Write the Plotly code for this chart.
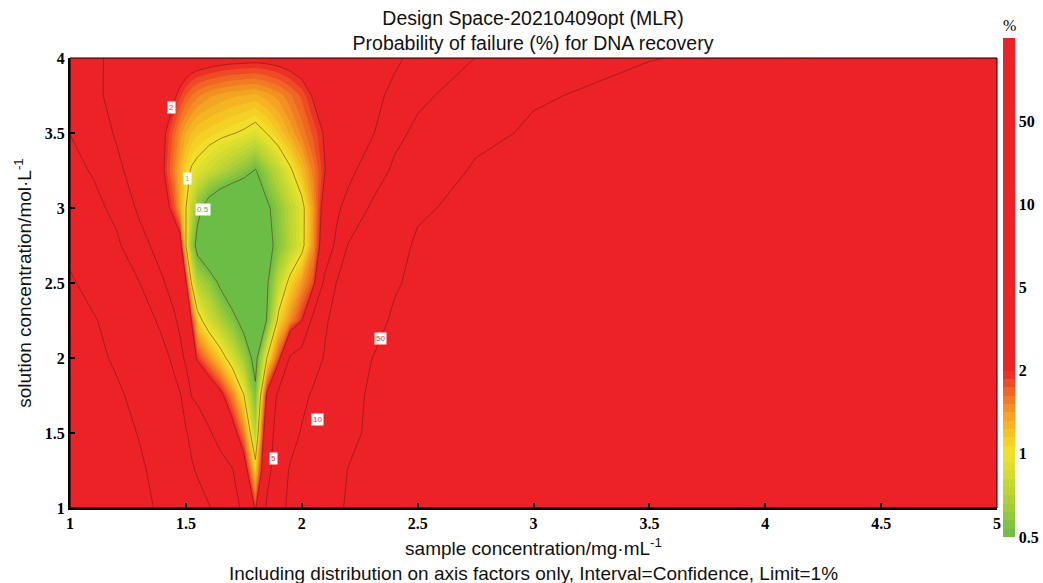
import numpy as np
import plotly.graph_objects as go

# sample concentration (mg/mL) grid columns
x_vals = [1.0, 1.1, 1.2, 1.3, 1.4, 1.45, 1.475, 1.5, 1.525, 1.55, 1.6, 1.65, 1.7, 1.75, 1.8, 1.85,
          1.9, 1.95, 2.0, 2.05, 2.1, 2.15, 2.2, 2.3, 2.4, 2.5, 2.75, 3.0, 3.5, 4.0, 4.5, 5.0]
# solution concentration (mol/L) grid rows
y_vals = [1.0, 1.25, 1.5, 1.75, 2.0, 2.25, 2.5, 2.75, 3.0, 3.25, 3.5, 3.75, 4.0]

# probability of failure (%), one list per row
pf_y1_00 = [87, 76, 66, 59, 38.6, 28.0, 23.9, 20.3, 17.3, 14.7, 10.7, 8.1, 6.2, 4.3, 1.93, 5.5,
            8.7, 12.3, 16.7, 22.7, 30.9, 41.9, 52.5, 57.4, 63.7, 68.3, 76, 81, 87, 90, 93, 95]
pf_y1_25 = [87, 76, 68.3, 55.1, 29.4, 20.0, 16.5, 13.6, 11.2, 9.6, 7.85, 6.37, 5.21, 2.71, 1.15, 3.83,
            7.42, 11.2, 15.2, 20.3, 27.6, 36.8, 50.5, 55.5, 61.6, 66, 73, 78.5, 84, 88, 91, 93]
pf_y1_50 = [84, 73, 63.7, 46.1, 22.4, 15.4, 12.9, 10.8, 9.0, 7.58, 5.36, 3.70, 2.51, 1.56, 0.71, 3.47,
            6.24, 8.24, 11.0, 15.2, 21.0, 28.9, 39.9, 53.6, 59.5, 63.7, 70.7, 75.8, 82, 87, 90, 92]
pf_y1_75 = [80, 70.7, 55.1, 33.4, 17.6, 12.7, 11.0, 7.96, 4.86, 4.16, 3.08, 2.25, 1.54, 1.01, 0.54, 2.19,
            5.79, 7.17, 8.83, 11.6, 16.5, 23.5, 34.0, 53.6, 59.5, 63.7, 70.7, 75.8, 81, 86, 89, 91]
pf_y2_00 = [75.8, 58.6, 41.2, 23.1, 12.9, 9.27, 6.28, 4.16, 2.63, 1.91, 1.47, 1.14, 0.86, 0.64, 0.44, 1.01,
            1.78, 5.36, 6.69, 8.35, 10.8, 15.9, 23.1, 49.2, 57.4, 61.6, 68.3, 73.2, 78.5, 84, 87, 90]
pf_y2_25 = [70.7, 52.5, 30.9, 17.0, 9.08, 5.51, 4.05, 2.83, 1.97, 1.13, 0.84, 0.68, 0.56, 0.44, 0.35, 0.51,
            1.09, 1.48, 1.97, 6.03, 9.53, 13.1, 17.8, 32.9, 53.6, 57.4, 63.7, 68.3, 75.8, 81, 84, 87]
pf_y2_50 = [53.6, 32.9, 18.1, 10.2, 5.32, 3.47, 2.76, 2.19, 0.97, 0.71, 0.60, 0.47, 0.38, 0.34, 0.35, 0.48,
            0.76, 1.10, 1.41, 1.82, 5.87, 10.2, 13.6, 24.6, 44.7, 55.5, 61.6, 66, 73.2, 78.5, 81, 84]
pf_y2_75 = [36.2, 24.2, 12.9, 6.46, 3.34, 2.89, 2.63, 1.01, 0.61, 0.44, 0.35, 0.32, 0.31, 0.31, 0.33, 0.44,
            0.56, 0.72, 0.91, 1.46, 2.83, 5.74, 10.7, 18.7, 33.4, 53.6, 61.6, 66, 70.7, 75.8, 78.5, 81]
pf_y3_00 = [22.4, 15.0, 8.59, 4.24, 2.49, 1.78, 1.34, 1.007, 0.75, 0.56, 0.41, 0.34, 0.31, 0.30, 0.33, 0.47,
            0.59, 0.74, 0.91, 1.41, 2.49, 4.24, 6.28, 11.75, 20.3, 42.6, 57.4, 61.6, 68.3, 73.2, 75.8, 78.5]
pf_y3_25 = [15.0, 9.53, 5.71, 3.43, 2.09, 1.54, 1.30, 1.10, 0.97, 0.92, 0.81, 0.72, 0.64, 0.57, 0.49, 0.62,
            0.77, 0.96, 1.22, 1.56, 1.99, 2.78, 3.83, 7.32, 12.5, 20.0, 53.6, 59.5, 66, 70.7, 73.2, 75.8]
pf_y3_50 = [9.93, 6.79, 4.65, 3.16, 2.15, 1.68, 1.46, 1.32, 1.23, 1.165, 1.11, 1.057, 1.014, 0.97, 0.90, 1.007,
            1.157, 1.34, 1.55, 1.78, 2.07, 2.51, 3.05, 4.48, 8.7, 12.9, 36.2, 53.6, 61.6, 66, 68.3, 70.7]
pf_y3_75 = [7.32, 5.55, 4.16, 3.16, 2.40, 2.09, 1.89, 1.74, 1.62, 1.54, 1.44, 1.385, 1.34, 1.32, 1.30, 1.37,
            1.46, 1.60, 1.77, 2.06, 2.34, 2.68, 3.11, 4.09, 5.62, 9.0, 17.8, 44.7, 57.4, 61.6, 63.7, 66]
pf_y4_00 = [6.37, 5.43, 4.36, 3.47, 2.89, 2.63, 2.56, 2.49, 2.42, 2.38, 2.32, 2.25, 2.21, 2.19, 2.17, 2.19,
            2.25, 2.34, 2.47, 2.63, 2.81, 3.02, 3.25, 3.80, 4.48, 5.74, 10.2, 16.7, 48.4, 55.5, 59.5, 61.6]

# colour-bar levels (%) and their labels
bar_levels = [0.5, 1, 2, 5, 10, 50, 100]
bar_labels = ["0.5", "1", "2", "5", "10", "50"]

# contour line labels
label_text = ["2", "1", "0.5", "50", "10", "5"]
label_x = [1.44, 1.505, 1.574, 2.338, 2.07, 1.876]
label_y = [3.67, 3.20, 2.99, 2.127, 1.587, 1.333]
label_color = ["#d23a40", "#c9b200", "#4fa83c", "#d23a40", "#d23a40", "#d23a40"]

z = np.array([pf_y1_00, pf_y1_25, pf_y1_50, pf_y1_75, pf_y2_00, pf_y2_25, pf_y2_50,
              pf_y2_75, pf_y3_00, pf_y3_25, pf_y3_50, pf_y3_75, pf_y4_00], dtype=float)

# map % onto the evenly spaced colour-bar level scale (log between levels)
lev_idx = np.arange(len(bar_levels), dtype=float)
t = np.interp(np.log(z), np.log(bar_levels), lev_idx)
t = np.where(z < bar_levels[0], np.log2(z / bar_levels[0]), t)

cs = [[0.0, "#6cbd45"], [0.5 / 6, "#b6d334"], [1 / 6, "#f0e52a"], [1.25 / 6, "#f5c423"],
      [1.5 / 6, "#f49b22"], [1.75 / 6, "#f06424"], [2 / 6, "#ec2227"], [1.0, "#ec2227"]]

serif_bold = dict(family="Liberation Serif, Times New Roman, serif", size=16, color="black", weight="bold")
sans = "Liberation Sans, Arial, sans-serif"
txt_size = 19

fig = go.Figure()
fig.add_trace(go.Contour(
    x=x_vals, y=y_vals, z=t, zmin=0, zmax=6, colorscale=cs, autocontour=False,
    contours=dict(coloring="fill", start=0, end=6, size=0.1, showlines=False),
    line=dict(width=0, smoothing=0),
    hoverinfo="skip",
    colorbar=dict(
        x=(1003 - 70) / 927, xanchor="left", xpad=0,
        y=(508 - 276.5) / 450, yanchor="middle", ypad=0,
        len=521, lenmode="pixels", thickness=12, outlinewidth=0,
        tickvals=list(lev_idx[:-1]), ticktext=bar_labels, ticks="",
        tickfont=serif_bold,
        title=dict(text="%", side="top", font=dict(family="Liberation Serif, serif", size=16, color="black")),
    ),
))
fig.add_trace(go.Contour(
    x=x_vals, y=y_vals, z=t, autocontour=False, showscale=False,
    contours=dict(coloring="none", start=0, end=5, size=1),
    line=dict(color="rgba(100,20,20,0.5)", width=1, smoothing=0),
    hoverinfo="skip",
))

annotations = []
for tx, lx, ly, lc in zip(label_text, label_x, label_y, label_color):
    annotations.append(dict(x=lx, y=ly, xref="x", yref="y", text=tx, showarrow=False,
                            bgcolor="white", borderpad=1,
                            font=dict(family=sans, size=8, color=lc)))
annotations.append(dict(
    x=0.4995, y=(508 - 573) / 450, xref="paper", yref="paper", yanchor="middle",
    text="Including distribution on axis factors only, Interval=Confidence, Limit=1%",
    showarrow=False, font=dict(family=sans, size=txt_size, color="#111")))

fig.update_layout(
    width=1043, height=583,
    margin=dict(l=70, r=46, t=58, b=75, autoexpand=False),
    paper_bgcolor="white", plot_bgcolor="white",
    showlegend=False,
    title=dict(text="Design Space-20210409opt (MLR)<br>Probability of failure (%) for DNA recovery",
               x=533 / 1043, xanchor="center", y=1 - 25 / 583, yanchor="middle", yref="container",
               font=dict(family=sans, size=19.5, color="#111")),
    xaxis=dict(range=[1, 5], tick0=1, dtick=0.5, ticks="inside", ticklen=5, tickwidth=1.5,
               tickcolor="black", showline=True, linecolor="black", linewidth=2,
               showgrid=False, zeroline=False, tickfont=serif_bold,
               title=dict(text="sample concentration/mg·mL<sup>-1</sup>", standoff=10,
                          font=dict(family=sans, size=txt_size, color="#111"))),
    yaxis=dict(range=[1, 4], tick0=1, dtick=0.5, ticks="inside", ticklen=5, tickwidth=1.5,
               tickcolor="black", showline=True, linecolor="black", linewidth=2,
               showgrid=False, zeroline=False, tickfont=serif_bold,
               title=dict(text="solution concentration/mol·L<sup>-1</sup>", standoff=8,
                          font=dict(family=sans, size=txt_size, color="#111"))),
    annotations=annotations,
    shapes=[dict(type="rect", xref="paper", yref="paper", x0=0, y0=0, x1=1, y1=1,
                 line=dict(color="black", width=1), layer="above")],
)

fig.write_html("out.html")
